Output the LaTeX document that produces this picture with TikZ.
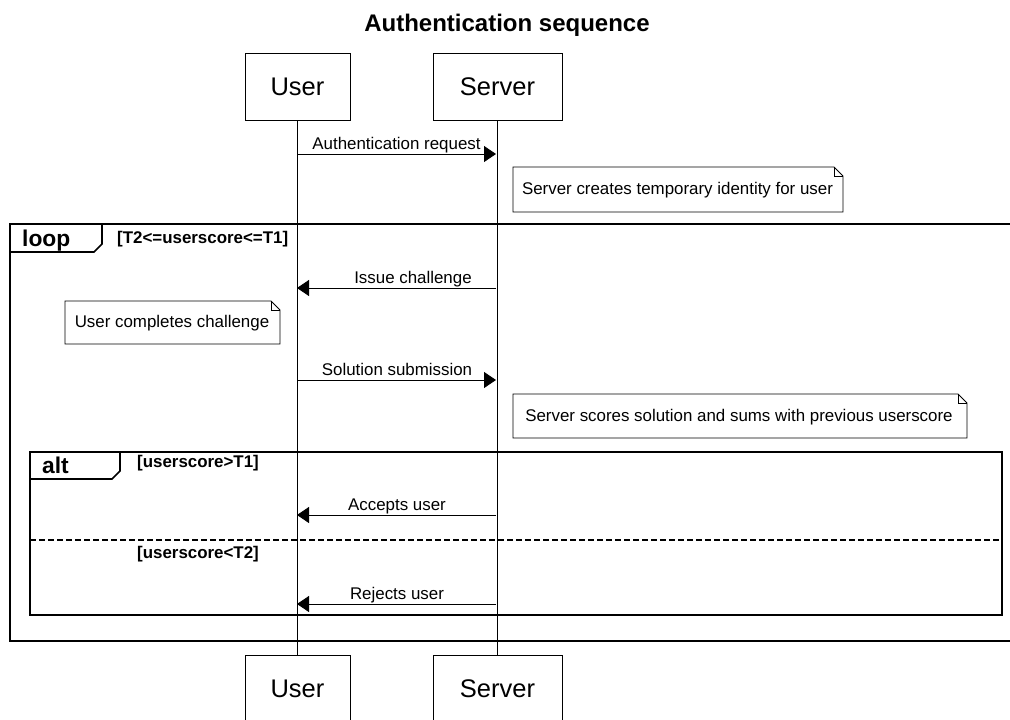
\documentclass[tikz,border=0pt]{standalone}
\usepackage{fontspec}
\setmainfont{Liberation Sans}
\usetikzlibrary{arrows.meta}
\tikzset{
  participant/.style={draw, line width=0.9pt, fill=white, minimum width=105pt, minimum height=67pt, inner sep=0pt, font=\fontsize{25.5}{28}\selectfont},
  lifeline/.style={line width=0.9pt},
  msg/.style={line width=0.9pt, -{Triangle[length=12pt,width=16pt]}},
  msglabel/.style={font=\fontsize{16.9}{19}\selectfont, inner sep=0pt, anchor=base},
  notetext/.style={font=\fontsize{16.9}{19}\selectfont, inner sep=0pt},
  notebox/.style={draw, line width=0.9pt, fill=white},
  frameline/.style={line width=1.7pt},
  framekw/.style={font=\bfseries\fontsize{22.8}{25}\selectfont, inner sep=0pt, anchor=base west},
  guard/.style={font=\bfseries\fontsize{16.9}{19}\selectfont, inner sep=0pt, anchor=base west},
  titlestyle/.style={font=\bfseries\fontsize{24}{28}\selectfont, inner sep=0pt}
}
\begin{document}
\begin{tikzpicture}[x=1pt,y=-1pt]
\useasboundingbox (0,0) rectangle (1010,720);
\fill[white] (0,0) rectangle (1010,720);

% title
\node[titlestyle] (title) at (507,25) {Authentication sequence};

% participants
\node[participant] (utop) at (297.5,86.5) {User};
\node[participant, minimum width=129pt] (stop) at (497.5,86.5) {Server};
\node[participant] (ubot) at (297.5,688.5) {User};
\node[participant, minimum width=129pt] (sbot) at (497.5,688.5) {Server};

% loop frame
\draw[frameline] (1012,224) -- (10,224) -- (10,641) -- (1012,641);
\draw[frameline] (10,252) -- (94,252) -- (102,244) -- (102,224);
\node[framekw] (loopkw) at (22,246) {loop};
\node[guard] (loopguard) at (117,243) {[T2<=userscore<=T1]};

% alt frame
\draw[frameline] (30,452) rectangle (1002,615);
\draw[frameline] (30,479) -- (112,479) -- (120,471) -- (120,452);
\node[framekw] (altkw) at (42,473) {alt};
\node[guard] (altguard1) at (137,467) {[userscore>T1]};
\draw[frameline, dashed, dash pattern=on 6pt off 3pt] (30,540) -- (1002,540);
\node[guard] (altguard2) at (137,558) {[userscore<T2]};

% lifelines
\draw[lifeline] (utop.south) -- (ubot.north);
\draw[lifeline] (stop.south) -- (sbot.north);

% message coordinates
\coordinate (m1u) at (297,154);
\coordinate (m1s) at (496,154);
\coordinate (m2u) at (297,288);
\coordinate (m2s) at (496,288);
\coordinate (m3u) at (297,380);
\coordinate (m3s) at (496,380);
\coordinate (m4u) at (297,515);
\coordinate (m4s) at (496,515);
\coordinate (m5u) at (297,604);
\coordinate (m5s) at (496,604);

\draw[msg] (m1u) -- (m1s);
\node[msglabel] (l1) at (396.5,149) {Authentication request};
\draw[msg] (m2s) -- (m2u);
\node[msglabel] (l2) at (413,283) {Issue challenge};
\draw[msg] (m3u) -- (m3s);
\node[msglabel] (l3) at (397,375) {Solution submission};
\draw[msg] (m4s) -- (m4u);
\node[msglabel] (l4) at (397,510) {Accepts user};
\draw[msg] (m5s) -- (m5u);
\node[msglabel] (l5) at (397,599) {Rejects user};

% notes
\newcommand{\notepath}[4]{%
  \draw[notebox] (#1,#2) -- (#3-9,#2) -- (#3,#2+9) -- (#3,#4) -- (#1,#4) -- cycle;
  \draw[line width=0.9pt] (#3-9,#2) -- (#3-9,#2+9) -- (#3,#2+9);
}
\notepath{513}{167}{843}{212}
\node[notetext] (n1) at (677.5,190) {Server creates temporary identity for user};
\notepath{65}{301}{280}{344}
\node[notetext] (n2) at (172,323) {User completes challenge};
\notepath{513}{394}{967}{438}
\node[notetext] (n3) at (739,417) {Server scores solution and sums with previous userscore};
\end{tikzpicture}
\end{document}
